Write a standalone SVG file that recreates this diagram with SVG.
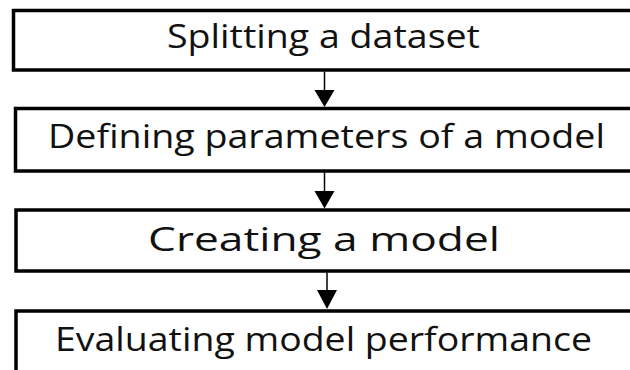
<svg xmlns="http://www.w3.org/2000/svg" width="630" height="370" viewBox="0 0 630 370">
<defs>
<style>
.box{fill:#fff;stroke:#000;stroke-width:3.5}
.lbl{font-family:"Open Sans","Noto Sans",sans-serif;font-size:33px;font-weight:500;fill:#111;text-anchor:middle}
.conn{stroke:#000;stroke-width:1.5;fill:none}
</style>
</defs>
<rect width="630" height="370" fill="#fff"/>
<g id="node1">
<rect class="box" x="13.5" y="10.5" width="640" height="59.5"/>
<text class="lbl" x="323.5" y="48" textLength="313" lengthAdjust="spacingAndGlyphs">Splitting a dataset</text>
</g>
<g id="node2">
<rect class="box" x="15.5" y="108.5" width="640" height="62.5"/>
<text class="lbl" x="326.5" y="148" textLength="557" lengthAdjust="spacingAndGlyphs">Defining parameters of a model</text>
</g>
<g id="node3">
<rect class="box" x="16" y="210" width="640" height="61"/>
<text class="lbl" x="324" y="251" textLength="352" lengthAdjust="spacingAndGlyphs">Creating a model</text>
</g>
<g id="node4">
<rect class="box" x="16" y="311" width="640" height="80"/>
<text class="lbl" x="323.5" y="351" textLength="537" lengthAdjust="spacingAndGlyphs">Evaluating model performance</text>
</g>
<g id="connectors">
<path class="conn" d="M324.5,71.5 V90" />
<path d="M314.5,90 L334.5,90 L324.5,107 Z" fill="#000"/>
<path class="conn" d="M324.5,172.5 V191" />
<path d="M314.5,191 L334.5,191 L324.5,208.5 Z" fill="#000"/>
<path class="conn" d="M327,272.5 V290" />
<path d="M317,290 L337,290 L327,309 Z" fill="#000"/>
</g>
</svg>
